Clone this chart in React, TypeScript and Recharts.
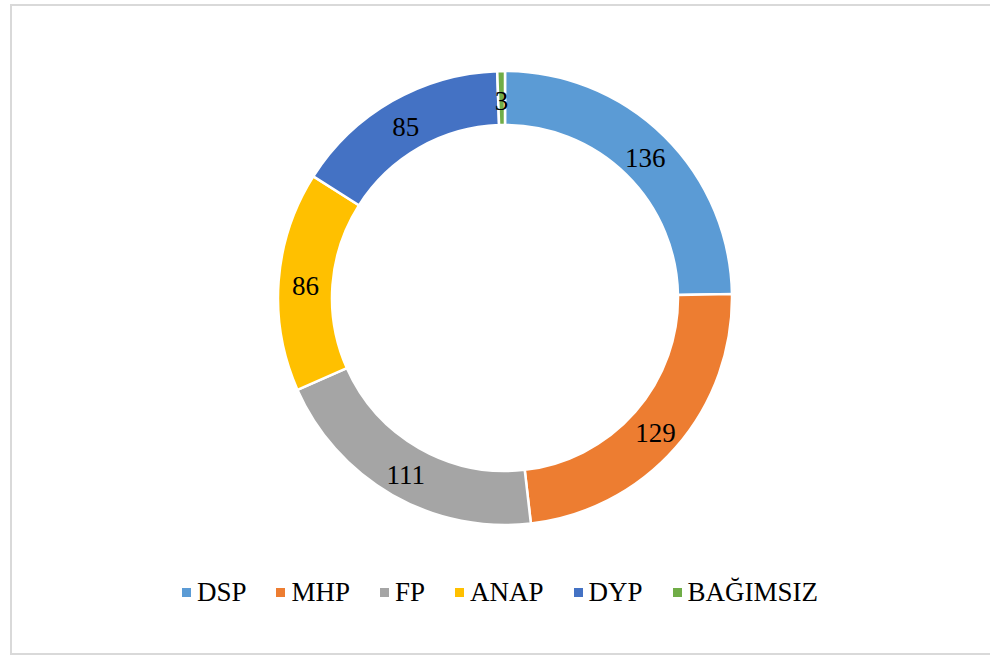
import { Pie, PieChart, Cell, Legend } from 'recharts'

// Seat distribution, donut with in-ring value labels, Office-style legend below.

const parties = ['DSP', 'MHP', 'FP', 'ANAP', 'DYP', 'BAĞIMSIZ']
const seats = [136, 129, 111, 86, 85, 3]
const colors = ['#5B9BD5', '#ED7D31', '#A5A5A5', '#FFC000', '#4472C4', '#70AD47']

const data = parties.map((name, i) => ({ name, value: seats[i] }))

const FONT = '"Times New Roman", "Liberation Serif", serif'
const RAD = Math.PI / 180

function renderLabel(props: any) {
  const { cx, cy, midAngle, innerRadius, outerRadius, value } = props
  const r = (innerRadius + outerRadius) / 2
  const x = cx + r * Math.cos(-midAngle * RAD)
  const y = cy + r * Math.sin(-midAngle * RAD)
  return (
    <text
      x={x}
      y={y + 3}
      fill="#000"
      textAnchor="middle"
      dominantBaseline="central"
      style={{ fontFamily: FONT, fontSize: 27 }}
    >
      {value}
    </text>
  )
}

function renderLegend() {
  return (
    <div
      style={{
        display: 'flex',
        justifyContent: 'center',
        alignItems: 'center',
        gap: 30,
        fontFamily: FONT,
        fontSize: 27,
        lineHeight: '30px',
        color: '#000',
        paddingLeft: 10,
      }}
    >
      {parties.map((p, i) => (
        <span key={p} style={{ display: 'inline-flex', alignItems: 'center', gap: 6 }}>
          <span style={{ width: 9, height: 9, background: colors[i], display: 'inline-block' }} />
          {p}
        </span>
      ))}
    </div>
  )
}

export default function App() {
  return (
    <div style={{ position: 'absolute', left: 0, top: 0, width: 990, height: 655, overflow: 'hidden', background: '#fff' }}>
      <div
        style={{
          position: 'absolute',
          left: 10,
          top: 4,
          width: 990,
          height: 651,
          boxSizing: 'border-box',
          border: '2px solid #D9D9D9',
        }}
      />
      <PieChart
        width={990}
        height={655}
        margin={{ top: 0, right: 0, bottom: 0, left: 0 }}
        style={{ position: 'absolute', left: 0, top: 0 }}
      >
        <Pie
          data={data}
          dataKey="value"
          nameKey="name"
          cx={505}
          cy={298}
          innerRadius={173}
          outerRadius={227}
          startAngle={90}
          endAngle={-270}
          stroke="#fff"
          strokeWidth={2.5}
          label={renderLabel}
          labelLine={false}
          isAnimationActive={false}
        >
          {data.map((d, i) => (
            <Cell key={d.name} fill={colors[i]} />
          ))}
        </Pie>
        <Legend
          content={renderLegend}
          verticalAlign="bottom"
          wrapperStyle={{ top: 577, bottom: 'auto', left: 0, width: 990 }}
        />
      </PieChart>
    </div>
  )
}
